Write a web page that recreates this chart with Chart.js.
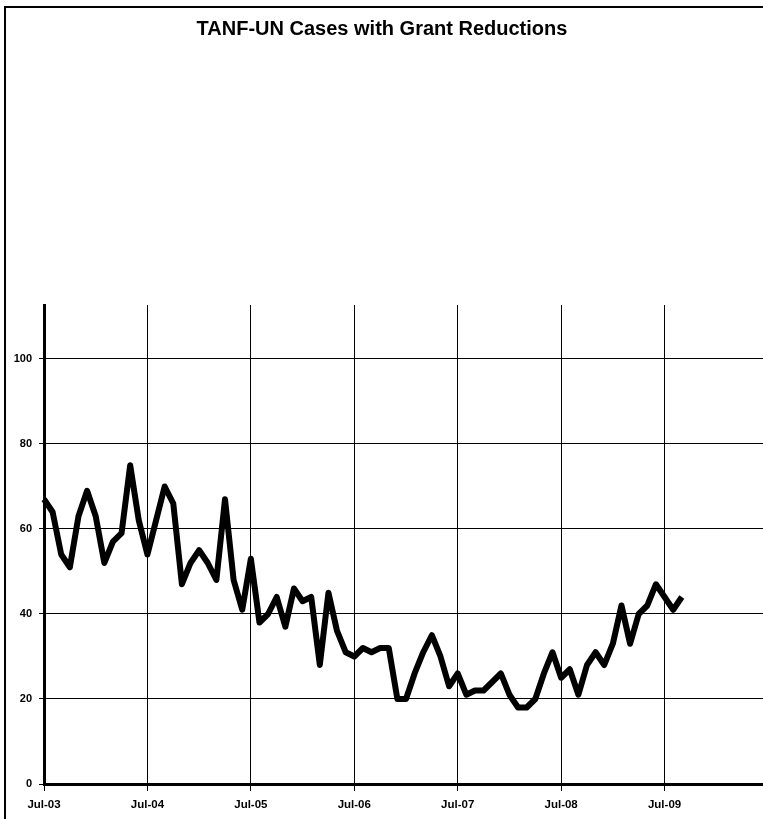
<!DOCTYPE html>
<html>
<head>
<meta charset="utf-8">
<title>TANF-UN Cases with Grant Reductions</title>
<script src="https://cdn.jsdelivr.net/npm/chart.js@4.4.1/dist/chart.umd.min.js"></script>
<style>
  html, body { margin: 0; padding: 0; overflow: hidden; background: #fff; }
  #wrap { position: absolute; left: 0; top: 0; width: 775px; height: 819px; }
  #frame {
    position: absolute; left: 4px; top: 6px; width: 800px; height: 900px;
    border-left: 2px solid #000; border-top: 2px solid #000; pointer-events: none;
  }
</style>
</head>
<body>
<div id="wrap"><canvas id="grantChart"></canvas></div>
<div id="frame"></div>
<script>
const CHART_TITLE = 'TANF-UN Cases with Grant Reductions';

// month categories Jul-03 .. Jul-10 (axis runs one month per category)
const monthNames = ['Jan', 'Feb', 'Mar', 'Apr', 'May', 'Jun', 'Jul', 'Aug', 'Sep', 'Oct', 'Nov', 'Dec'];
const years = ['03', '04', '05', '06', '07', '08', '09', '10'];
const tickLabels = ['Jul-03', 'Jul-04', 'Jul-05', 'Jul-06', 'Jul-07', 'Jul-08', 'Jul-09'];

// monthly cases, Jul-03 .. Sep-09
const cases = [
  67, 64, 54, 51, 63, 69, 63, 52, 57, 59, 75, 62,   // Jul-03 .. Jun-04
  54, 62, 70, 66, 47, 52, 55, 52, 48, 67, 48, 41,   // Jul-04 .. Jun-05
  53, 38, 40, 44, 37, 46, 43, 44, 28, 45, 36, 31,   // Jul-05 .. Jun-06
  30, 32, 31, 32, 32, 20, 20, 26, 31, 35, 30, 23,   // Jul-06 .. Jun-07
  26, 21, 22, 22, 24, 26, 21, 18, 18, 20, 26, 31,   // Jul-07 .. Jun-08
  25, 27, 21, 28, 31, 28, 33, 42, 33, 40, 42, 47,   // Jul-08 .. Jun-09
  44, 41, 44                                        // Jul-09 .. Sep-09
];

const yTicks = { min: 0, max: 112.7, step: 20 };

const allMonths = [];
years.forEach(y => monthNames.forEach(m => allMonths.push(m + '-' + y)));
const categories = allMonths.slice(allMonths.indexOf('Jul-03'), allMonths.indexOf('Jul-10') + 1);

const FONT = '"Liberation Sans", Arial, sans-serif';

function isYearTick(index) {
  return tickLabels.includes(categories[index]);
}

// the canvas runs a bit past the window on the right, so pull the title back to the visible centre
const titleShift = {
  id: 'titleShift',
  afterLayout(chart) {
    const t = chart.titleBlock;
    if (!t) return;
    t.right -= 10;
    t.width -= 10;
  }
};

function initChart() {
  const ctx = document.getElementById('grantChart');

  new Chart(ctx, {
    type: 'line',
    data: {
      labels: categories,
      datasets: [{
        label: 'Cases',
        data: cases,
        borderColor: '#000',
        borderWidth: 6,
        borderJoinStyle: 'round',
        borderCapStyle: 'butt',
        pointRadius: 0,
        fill: false,
        tension: 0
      }]
    },
    plugins: [titleShift],
    options: {
      animation: false,
      responsive: true,
      maintainAspectRatio: false,
      layout: { padding: { left: 0, right: 1, top: 0, bottom: 0 } },
      plugins: {
        legend: { display: false },
        tooltip: { enabled: false },
        title: {
          display: true,
          text: CHART_TITLE,
          color: '#000',
          font: { family: FONT, size: 20, weight: 'bold' },
          padding: { top: 17, bottom: 264 }
        }
      },
      scales: {
        x: {
          type: 'category',
          offset: false,
          grid: {
            offset: false,
            color: c => isYearTick(c.index) ? '#000' : 'transparent',
            tickColor: c => isYearTick(c.index) ? '#000' : 'transparent',
            lineWidth: 1,
            tickLength: 7
          },
          border: { color: '#000', width: 3 },
          ticks: {
            autoSkip: false,
            maxRotation: 0,
            minRotation: 0,
            padding: 7,
            color: '#000',
            font: { family: FONT, size: 11.5, weight: 'bold' },
            callback: (value, index) => isYearTick(index) ? categories[index] : ''
          },
          afterFit: scale => { scale.height = 35; }
        },
        y: {
          min: yTicks.min,
          max: yTicks.max,
          grid: { color: '#000', lineWidth: 1, tickLength: 5 },
          border: { color: '#000', width: 3 },
          ticks: {
            stepSize: yTicks.step,
            includeBounds: false,
            padding: 7,
            color: '#000',
            font: { family: FONT, size: 11, weight: 'bold' }
          },
          afterFit: scale => { scale.width = 44; }
        }
      }
    }
  });
}

initChart();
</script>
</body>
</html>
